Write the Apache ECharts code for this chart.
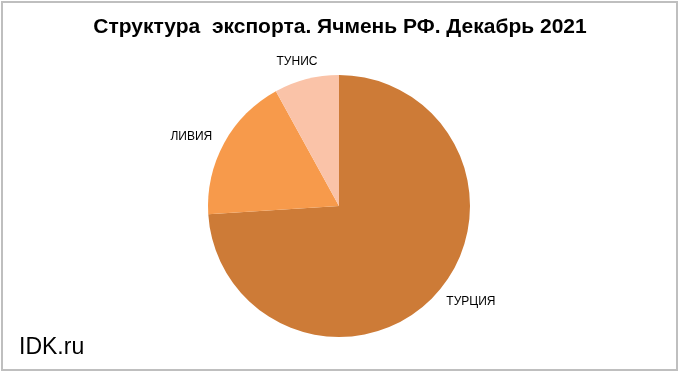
<!DOCTYPE html>
<html><head><meta charset="utf-8">
<script src="https://cdn.jsdelivr.net/npm/echarts@6/dist/echarts.min.js"></script>
<style>html,body{margin:0;padding:0;background:#fff;}#c{width:680px;height:374px;}
#frame{position:absolute;left:1px;top:1px;width:673px;height:366px;border:2px solid #bfbfbf;box-sizing:content-box;pointer-events:none;}</style>
</head><body><div id="c"></div><div id="frame"></div>
<script>
const titleText = 'Структура  экспорта. Ячмень РФ. Декабрь 2021';
const categories = ['ТУРЦИЯ', 'ЛИВИЯ', 'ТУНИС'];
const shares = [74, 18, 8];
const colors = ['#CD7B37', '#F79A4B', '#FAC3A8'];
const labelTweaks = [
  {offset: [-5, 1]},
  {offset: [6, -2]},
  {offset: [24, -10]}
];
const chart = echarts.init(document.getElementById('c'));
chart.setOption({
  animation: false,
  backgroundColor: '#fff',
  title: [{
    text: titleText, left: 'center', top: 12,
    textStyle: {fontFamily: 'Arial, "Liberation Sans", sans-serif', fontWeight: 'bold', fontSize: 21, color: '#000'}
  }, {
    text: 'IDK.ru', left: 14, top: 331,
    textStyle: {fontFamily: 'Arial, "Liberation Sans", sans-serif', fontWeight: 'normal', fontSize: 23, color: '#000'}
  }],
  series: [{
    type: 'pie',
    center: [339, 206],
    radius: 131,
    startAngle: 90,
    clockwise: true,
    data: categories.map((n, i) => ({name: n, value: shares[i], itemStyle: {color: colors[i]}, label: labelTweaks[i]})),
    label: {show: true, position: 'outside', formatter: '{b}', color: '#000', fontSize: 12, fontFamily: 'Arial, "Liberation Sans", sans-serif'},
    labelLine: {show: false, length: 8, length2: 6},
    emphasis: {disabled: true}
  }]
});
</script></body></html>
